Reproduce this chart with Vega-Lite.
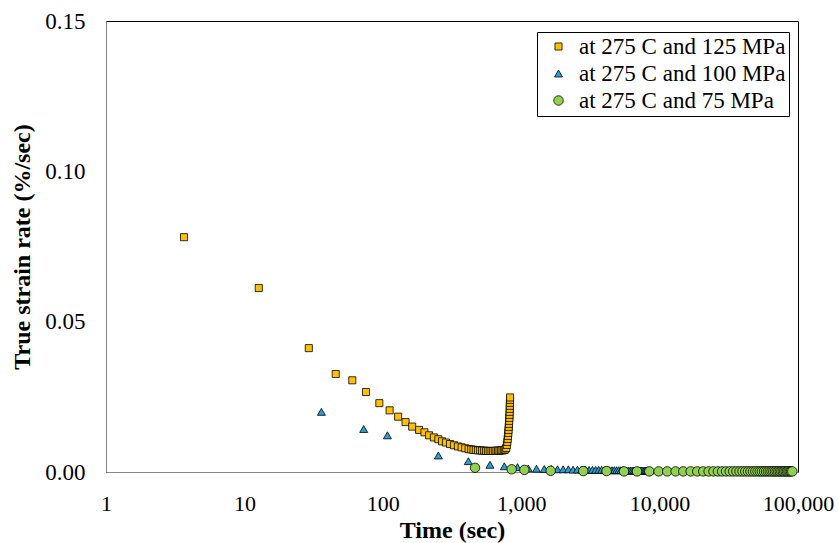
{
  "$schema": "https://vega.github.io/schema/vega-lite/v6.json",
  "width": 692,
  "height": 451,
  "autosize": {"type": "none"},
  "padding": {"left": 106, "top": 21, "right": 40, "bottom": 71},
  "background": "white",
  "data": {
    "values": [
      {"series": "at 275 C and 125 MPa", "t": 3.66, "rate": 0.0781},
      {"series": "at 275 C and 125 MPa", "t": 12.7, "rate": 0.0612},
      {"series": "at 275 C and 125 MPa", "t": 29.2, "rate": 0.0412},
      {"series": "at 275 C and 125 MPa", "t": 45.7, "rate": 0.0326},
      {"series": "at 275 C and 125 MPa", "t": 60.2, "rate": 0.0305},
      {"series": "at 275 C and 125 MPa", "t": 75.6, "rate": 0.0266},
      {"series": "at 275 C and 125 MPa", "t": 94.4, "rate": 0.0229},
      {"series": "at 275 C and 125 MPa", "t": 112, "rate": 0.0205},
      {"series": "at 275 C and 125 MPa", "t": 129, "rate": 0.0184},
      {"series": "at 275 C and 125 MPa", "t": 146, "rate": 0.0166},
      {"series": "at 275 C and 125 MPa", "t": 163, "rate": 0.0151},
      {"series": "at 275 C and 125 MPa", "t": 183, "rate": 0.0140},
      {"series": "at 275 C and 125 MPa", "t": 200, "rate": 0.0132},
      {"series": "at 275 C and 125 MPa", "t": 216, "rate": 0.0122},
      {"series": "at 275 C and 125 MPa", "t": 234, "rate": 0.0115},
      {"series": "at 275 C and 125 MPa", "t": 252, "rate": 0.0109},
      {"series": "at 275 C and 125 MPa", "t": 268, "rate": 0.0102},
      {"series": "at 275 C and 125 MPa", "t": 286, "rate": 0.0098},
      {"series": "at 275 C and 125 MPa", "t": 306, "rate": 0.0093},
      {"series": "at 275 C and 125 MPa", "t": 327, "rate": 0.0089},
      {"series": "at 275 C and 125 MPa", "t": 349, "rate": 0.0085},
      {"series": "at 275 C and 125 MPa", "t": 371, "rate": 0.0082},
      {"series": "at 275 C and 125 MPa", "t": 394, "rate": 0.0079},
      {"series": "at 275 C and 125 MPa", "t": 417, "rate": 0.0076},
      {"series": "at 275 C and 125 MPa", "t": 435, "rate": 0.0075},
      {"series": "at 275 C and 125 MPa", "t": 452, "rate": 0.0074},
      {"series": "at 275 C and 125 MPa", "t": 470, "rate": 0.0073},
      {"series": "at 275 C and 125 MPa", "t": 487, "rate": 0.0072},
      {"series": "at 275 C and 125 MPa", "t": 505, "rate": 0.0072},
      {"series": "at 275 C and 125 MPa", "t": 522, "rate": 0.0071},
      {"series": "at 275 C and 125 MPa", "t": 540, "rate": 0.0071},
      {"series": "at 275 C and 125 MPa", "t": 557, "rate": 0.0070},
      {"series": "at 275 C and 125 MPa", "t": 575, "rate": 0.0070},
      {"series": "at 275 C and 125 MPa", "t": 592, "rate": 0.0070},
      {"series": "at 275 C and 125 MPa", "t": 610, "rate": 0.0070},
      {"series": "at 275 C and 125 MPa", "t": 627, "rate": 0.0070},
      {"series": "at 275 C and 125 MPa", "t": 645, "rate": 0.0070},
      {"series": "at 275 C and 125 MPa", "t": 662, "rate": 0.0071},
      {"series": "at 275 C and 125 MPa", "t": 680, "rate": 0.0071},
      {"series": "at 275 C and 125 MPa", "t": 697, "rate": 0.0071},
      {"series": "at 275 C and 125 MPa", "t": 715, "rate": 0.0072},
      {"series": "at 275 C and 125 MPa", "t": 732, "rate": 0.0072},
      {"series": "at 275 C and 125 MPa", "t": 750, "rate": 0.0073},
      {"series": "at 275 C and 125 MPa", "t": 767, "rate": 0.0075},
      {"series": "at 275 C and 125 MPa", "t": 780, "rate": 0.0080},
      {"series": "at 275 C and 125 MPa", "t": 788, "rate": 0.0090},
      {"series": "at 275 C and 125 MPa", "t": 794, "rate": 0.0100},
      {"series": "at 275 C and 125 MPa", "t": 799, "rate": 0.0110},
      {"series": "at 275 C and 125 MPa", "t": 803, "rate": 0.0120},
      {"series": "at 275 C and 125 MPa", "t": 807, "rate": 0.0130},
      {"series": "at 275 C and 125 MPa", "t": 810, "rate": 0.0140},
      {"series": "at 275 C and 125 MPa", "t": 813, "rate": 0.0150},
      {"series": "at 275 C and 125 MPa", "t": 816, "rate": 0.0160},
      {"series": "at 275 C and 125 MPa", "t": 819, "rate": 0.0170},
      {"series": "at 275 C and 125 MPa", "t": 821, "rate": 0.0180},
      {"series": "at 275 C and 125 MPa", "t": 823, "rate": 0.0190},
      {"series": "at 275 C and 125 MPa", "t": 825, "rate": 0.0200},
      {"series": "at 275 C and 125 MPa", "t": 827, "rate": 0.0210},
      {"series": "at 275 C and 125 MPa", "t": 828, "rate": 0.0220},
      {"series": "at 275 C and 125 MPa", "t": 829, "rate": 0.0230},
      {"series": "at 275 C and 125 MPa", "t": 830, "rate": 0.0240},
      {"series": "at 275 C and 125 MPa", "t": 831, "rate": 0.0248},
      {"series": "at 275 C and 100 MPa", "t": 36, "rate": 0.0200},
      {"series": "at 275 C and 100 MPa", "t": 72.8, "rate": 0.0143},
      {"series": "at 275 C and 100 MPa", "t": 108, "rate": 0.0122},
      {"series": "at 275 C and 100 MPa", "t": 252, "rate": 0.0055},
      {"series": "at 275 C and 100 MPa", "t": 415, "rate": 0.0036},
      {"series": "at 275 C and 100 MPa", "t": 595, "rate": 0.0024},
      {"series": "at 275 C and 100 MPa", "t": 755, "rate": 0.0019},
      {"series": "at 275 C and 100 MPa", "t": 940, "rate": 0.0016},
      {"series": "at 275 C and 100 MPa", "t": 1125, "rate": 0.0012},
      {"series": "at 275 C and 100 MPa", "t": 1290, "rate": 0.0011},
      {"series": "at 275 C and 100 MPa", "t": 1468, "rate": 0.0010},
      {"series": "at 275 C and 100 MPa", "t": 1650, "rate": 0.0010},
      {"series": "at 275 C and 100 MPa", "t": 1830, "rate": 0.0009},
      {"series": "at 275 C and 100 MPa", "t": 2010, "rate": 0.0009},
      {"series": "at 275 C and 100 MPa", "t": 2190, "rate": 0.0009},
      {"series": "at 275 C and 100 MPa", "t": 2370, "rate": 0.0008},
      {"series": "at 275 C and 100 MPa", "t": 2550, "rate": 0.0008},
      {"series": "at 275 C and 100 MPa", "t": 2730, "rate": 0.0008},
      {"series": "at 275 C and 100 MPa", "t": 2910, "rate": 0.0008},
      {"series": "at 275 C and 100 MPa", "t": 3090, "rate": 0.0007},
      {"series": "at 275 C and 100 MPa", "t": 3270, "rate": 0.0007},
      {"series": "at 275 C and 100 MPa", "t": 3450, "rate": 0.0007},
      {"series": "at 275 C and 100 MPa", "t": 3630, "rate": 0.0007},
      {"series": "at 275 C and 100 MPa", "t": 3810, "rate": 0.0007},
      {"series": "at 275 C and 100 MPa", "t": 3990, "rate": 0.0006},
      {"series": "at 275 C and 100 MPa", "t": 4170, "rate": 0.0006},
      {"series": "at 275 C and 100 MPa", "t": 4350, "rate": 0.0006},
      {"series": "at 275 C and 100 MPa", "t": 4530, "rate": 0.0006},
      {"series": "at 275 C and 100 MPa", "t": 4710, "rate": 0.0006},
      {"series": "at 275 C and 100 MPa", "t": 4890, "rate": 0.0006},
      {"series": "at 275 C and 100 MPa", "t": 5070, "rate": 0.0006},
      {"series": "at 275 C and 100 MPa", "t": 5250, "rate": 0.0006},
      {"series": "at 275 C and 100 MPa", "t": 5430, "rate": 0.0006},
      {"series": "at 275 C and 100 MPa", "t": 5610, "rate": 0.0005},
      {"series": "at 275 C and 100 MPa", "t": 5790, "rate": 0.0005},
      {"series": "at 275 C and 100 MPa", "t": 5970, "rate": 0.0005},
      {"series": "at 275 C and 100 MPa", "t": 6150, "rate": 0.0005},
      {"series": "at 275 C and 100 MPa", "t": 6330, "rate": 0.0005},
      {"series": "at 275 C and 100 MPa", "t": 6510, "rate": 0.0005},
      {"series": "at 275 C and 100 MPa", "t": 6690, "rate": 0.0005},
      {"series": "at 275 C and 100 MPa", "t": 6870, "rate": 0.0005},
      {"series": "at 275 C and 100 MPa", "t": 7050, "rate": 0.0005},
      {"series": "at 275 C and 100 MPa", "t": 7230, "rate": 0.0005},
      {"series": "at 275 C and 100 MPa", "t": 7410, "rate": 0.0005},
      {"series": "at 275 C and 100 MPa", "t": 7590, "rate": 0.0005},
      {"series": "at 275 C and 100 MPa", "t": 7770, "rate": 0.0005},
      {"series": "at 275 C and 100 MPa", "t": 7950, "rate": 0.0005},
      {"series": "at 275 C and 100 MPa", "t": 8130, "rate": 0.0005},
      {"series": "at 275 C and 100 MPa", "t": 8310, "rate": 0.0005},
      {"series": "at 275 C and 100 MPa", "t": 8490, "rate": 0.0005},
      {"series": "at 275 C and 75 MPa", "t": 464, "rate": 0.0014},
      {"series": "at 275 C and 75 MPa", "t": 853, "rate": 0.0009},
      {"series": "at 275 C and 75 MPa", "t": 1054, "rate": 0.0007},
      {"series": "at 275 C and 75 MPa", "t": 1633, "rate": 0.0004},
      {"series": "at 275 C and 75 MPa", "t": 2810, "rate": 0.0003},
      {"series": "at 275 C and 75 MPa", "t": 4140, "rate": 0.0003},
      {"series": "at 275 C and 75 MPa", "t": 5530, "rate": 0.0002},
      {"series": "at 275 C and 75 MPa", "t": 6870, "rate": 0.0002},
      {"series": "at 275 C and 75 MPa", "t": 8430, "rate": 0.0002},
      {"series": "at 275 C and 75 MPa", "t": 9840, "rate": 0.0002},
      {"series": "at 275 C and 75 MPa", "t": 11360, "rate": 0.0002},
      {"series": "at 275 C and 75 MPa", "t": 13050, "rate": 0.0002},
      {"series": "at 275 C and 75 MPa", "t": 14830, "rate": 0.0002},
      {"series": "at 275 C and 75 MPa", "t": 16760, "rate": 0.0002},
      {"series": "at 275 C and 75 MPa", "t": 18710, "rate": 0.0002},
      {"series": "at 275 C and 75 MPa", "t": 20660, "rate": 0.0002},
      {"series": "at 275 C and 75 MPa", "t": 22600, "rate": 0.0002},
      {"series": "at 275 C and 75 MPa", "t": 24500, "rate": 0.0002},
      {"series": "at 275 C and 75 MPa", "t": 26400, "rate": 0.0002},
      {"series": "at 275 C and 75 MPa", "t": 28300, "rate": 0.0002},
      {"series": "at 275 C and 75 MPa", "t": 30200, "rate": 0.0002},
      {"series": "at 275 C and 75 MPa", "t": 32100, "rate": 0.0002},
      {"series": "at 275 C and 75 MPa", "t": 34000, "rate": 0.0002},
      {"series": "at 275 C and 75 MPa", "t": 35900, "rate": 0.0002},
      {"series": "at 275 C and 75 MPa", "t": 37800, "rate": 0.0002},
      {"series": "at 275 C and 75 MPa", "t": 39700, "rate": 0.0002},
      {"series": "at 275 C and 75 MPa", "t": 41600, "rate": 0.0002},
      {"series": "at 275 C and 75 MPa", "t": 43500, "rate": 0.0002},
      {"series": "at 275 C and 75 MPa", "t": 45400, "rate": 0.0002},
      {"series": "at 275 C and 75 MPa", "t": 47300, "rate": 0.0002},
      {"series": "at 275 C and 75 MPa", "t": 49200, "rate": 0.0002},
      {"series": "at 275 C and 75 MPa", "t": 51100, "rate": 0.0002},
      {"series": "at 275 C and 75 MPa", "t": 53000, "rate": 0.0002},
      {"series": "at 275 C and 75 MPa", "t": 54900, "rate": 0.0002},
      {"series": "at 275 C and 75 MPa", "t": 56800, "rate": 0.0002},
      {"series": "at 275 C and 75 MPa", "t": 58700, "rate": 0.0002},
      {"series": "at 275 C and 75 MPa", "t": 60600, "rate": 0.0002},
      {"series": "at 275 C and 75 MPa", "t": 62500, "rate": 0.0002},
      {"series": "at 275 C and 75 MPa", "t": 64400, "rate": 0.0002},
      {"series": "at 275 C and 75 MPa", "t": 66300, "rate": 0.0002},
      {"series": "at 275 C and 75 MPa", "t": 68200, "rate": 0.0002},
      {"series": "at 275 C and 75 MPa", "t": 70100, "rate": 0.0002},
      {"series": "at 275 C and 75 MPa", "t": 72000, "rate": 0.0002},
      {"series": "at 275 C and 75 MPa", "t": 73900, "rate": 0.0002},
      {"series": "at 275 C and 75 MPa", "t": 75800, "rate": 0.0002},
      {"series": "at 275 C and 75 MPa", "t": 77700, "rate": 0.0002},
      {"series": "at 275 C and 75 MPa", "t": 79600, "rate": 0.0002},
      {"series": "at 275 C and 75 MPa", "t": 81500, "rate": 0.0002},
      {"series": "at 275 C and 75 MPa", "t": 83400, "rate": 0.0002},
      {"series": "at 275 C and 75 MPa", "t": 85300, "rate": 0.0002},
      {"series": "at 275 C and 75 MPa", "t": 87200, "rate": 0.0002},
      {"series": "at 275 C and 75 MPa", "t": 89100, "rate": 0.0002},
      {"series": "at 275 C and 75 MPa", "t": 91000, "rate": 0.0002}
    ]
  },
  "mark": {
    "type": "point",
    "filled": true,
    "opacity": 1,
    "stroke": "black",
    "strokeWidth": 0.8
  },
  "encoding": {
    "x": {
      "field": "t",
      "type": "quantitative",
      "scale": {"type": "log", "domain": [1, 100000], "nice": false},
      "axis": {
        "title": "Time (sec)",
        "values": [1, 10, 100, 1000, 10000, 100000],
        "format": ",",
        "grid": false,
        "ticks": false,
        "labelPadding": 21,
        "titlePadding": 4,
        "labelOverlap": false,
        "labelBound": false,
        "labelFlush": false
      }
    },
    "y": {
      "field": "rate",
      "type": "quantitative",
      "scale": {"domain": [0, 0.15], "nice": false},
      "axis": {
        "title": "True strain rate (%/sec)",
        "values": [0, 0.05, 0.1, 0.15],
        "format": ".2f",
        "grid": false,
        "ticks": false,
        "labelPadding": 21,
        "labelFontSize": 23,
        "titlePadding": 10
      }
    },
    "color": {
      "field": "series",
      "type": "nominal",
      "scale": {
        "domain": ["at 275 C and 125 MPa", "at 275 C and 100 MPa", "at 275 C and 75 MPa"],
        "range": ["#FFC000", "#2A9FD6", "#92D050"]
      },
      "legend": {"title": null}
    },
    "shape": {
      "field": "series",
      "type": "nominal",
      "scale": {
        "domain": ["at 275 C and 125 MPa", "at 275 C and 100 MPa", "at 275 C and 75 MPa"],
        "range": ["square", "triangle-up", "circle"]
      },
      "legend": {"title": null}
    },
    "size": {
      "field": "series",
      "type": "nominal",
      "scale": {
        "type": "ordinal",
        "domain": ["at 275 C and 125 MPa", "at 275 C and 100 MPa", "at 275 C and 75 MPa"],
        "range": [50, 64, 90]
      },
      "legend": null
    }
  },
  "config": {
    "font": "Liberation Serif",
    "view": {"stroke": "black", "strokeWidth": 1},
    "axis": {
      "domainColor": "#868686",
      "domainWidth": 1,
      "labelFont": "Liberation Serif",
      "labelFontSize": 22,
      "labelColor": "black",
      "titleFont": "Liberation Serif",
      "titleFontSize": 24,
      "titleFontWeight": "bold",
      "titleColor": "black"
    },
    "legend": {
      "orient": "none",
      "legendX": 431,
      "legendY": 11,
      "padding": 3,
      "symbolOffset": 7,
      "fillColor": "white",
      "strokeColor": "black",
      "labelFont": "Liberation Serif",
      "labelFontSize": 23,
      "labelColor": "black",
      "labelOffset": 9,
      "labelLimit": 400,
      "rowPadding": 3,
      "symbolSize": 30,
      "symbolStrokeColor": "black",
      "symbolStrokeWidth": 0.8
    }
  }
}
